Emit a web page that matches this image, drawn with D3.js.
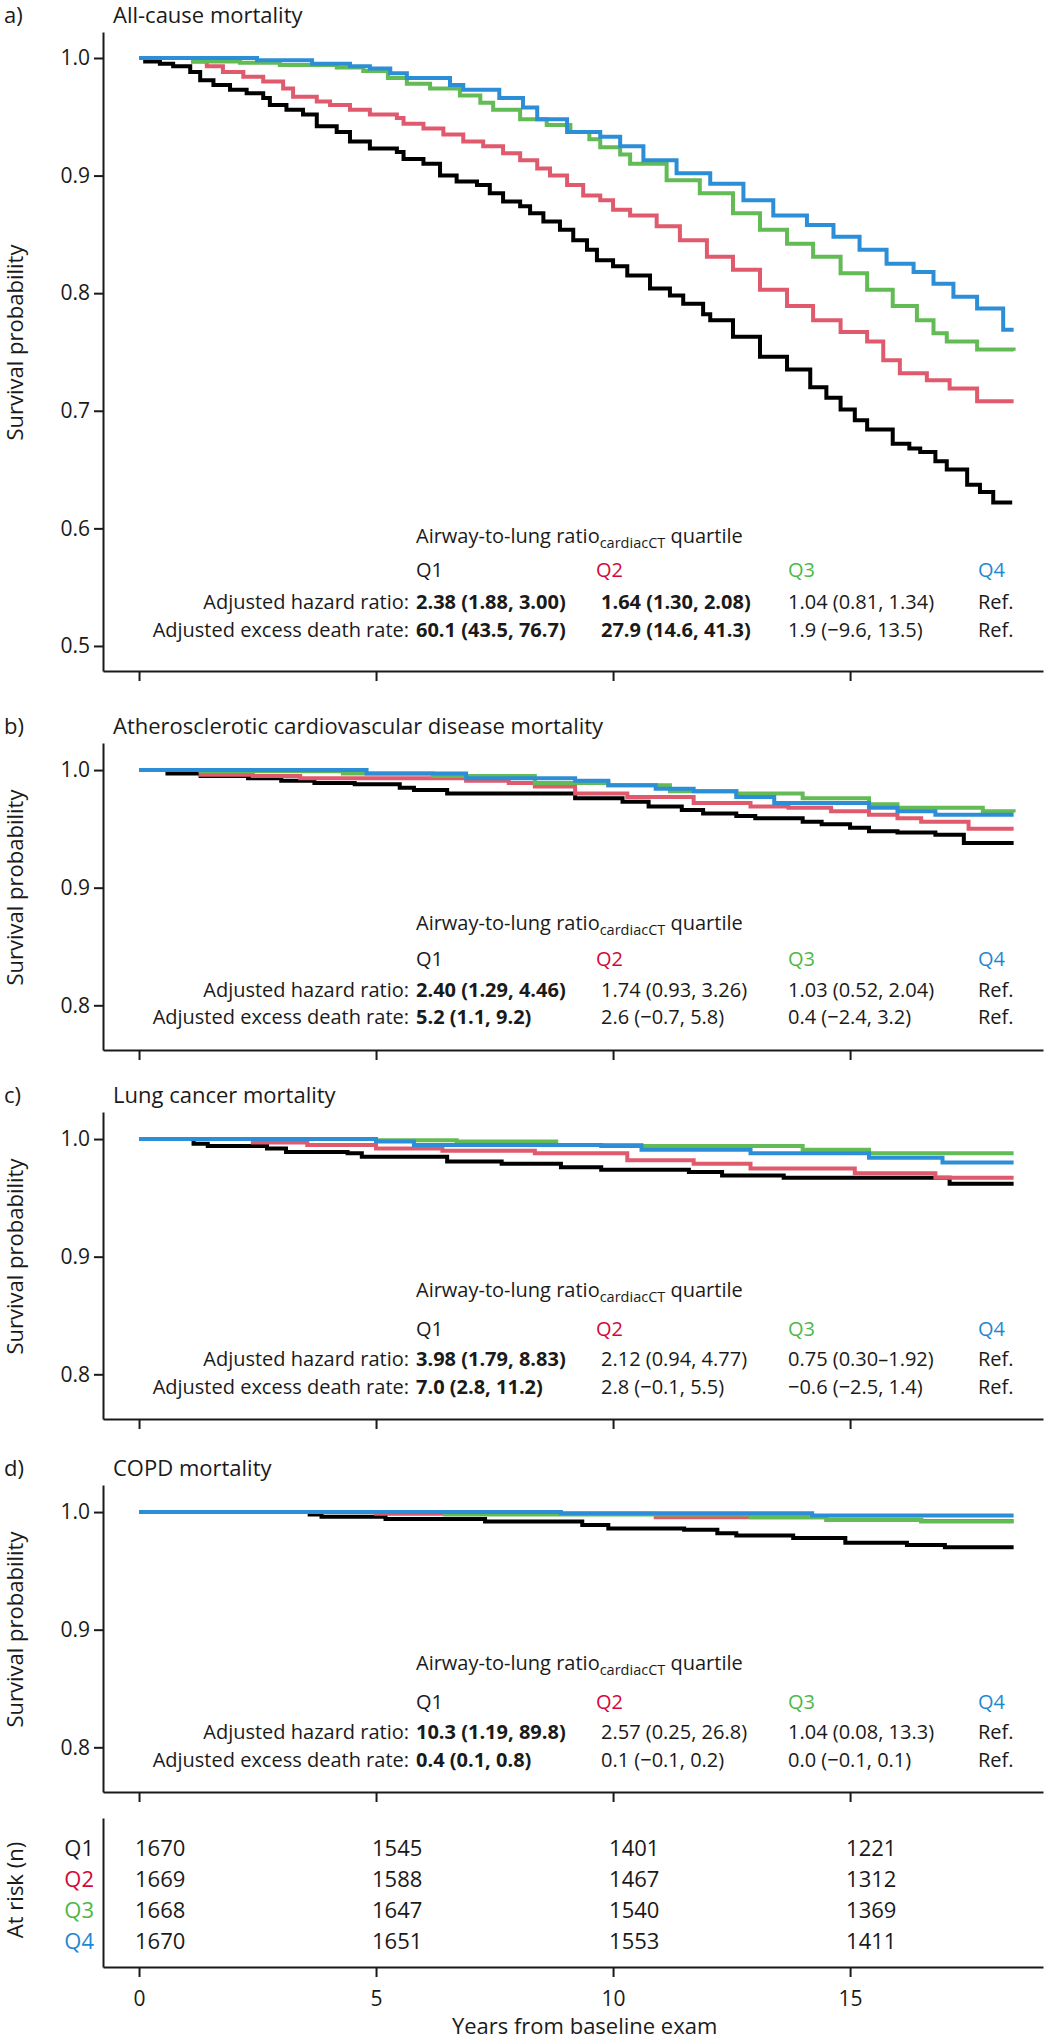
<!DOCTYPE html>
<html><head><meta charset="utf-8">
<script src="https://cdn.jsdelivr.net/npm/d3@7"></script>
<style>
body{margin:0;background:#fff}
text{font-family:"Open Sans",sans-serif;fill:#1a1a1a}
</style></head>
<body><svg id="chart" width="1049" height="2040"></svg>
<script>
// ---------------- DATA ----------------
const quartiles = ["Q1", "Q2", "Q3", "Q4"];
const xTicks = [0, 5, 10, 15];
const riskTimes = [0, 5, 10, 15];
const riskQ1 = [1670, 1545, 1401, 1221];
const riskQ2 = [1669, 1588, 1467, 1312];
const riskQ3 = [1668, 1647, 1540, 1369];
const riskQ4 = [1670, 1651, 1553, 1411];

const panelLabels = ["a)", "b)", "c)", "d)"];
const panelTitles = ["All-cause mortality", "Atherosclerotic cardiovascular disease mortality", "Lung cancer mortality", "COPD mortality"];
const yTicksA = [0.5, 0.6, 0.7, 0.8, 0.9, 1.0];
const yTicksBCD = [0.8, 0.9, 1.0];

// Kaplan-Meier curves: [years, survival]
const allQ1 = [[0,1],[0.13,0.997],[0.44,0.995],[0.72,0.993],[1.08,0.988],[1.29,0.981],[1.57,0.977],[1.92,0.973],[2.27,0.970],[2.62,0.966],[2.76,0.960],[3.11,0.956],[3.46,0.952],[3.75,0.942],[4.17,0.937],[4.45,0.929],[4.87,0.923],[5.44,0.920],[5.58,0.914],[6.0,0.910],[6.35,0.900],[6.7,0.895],[7.13,0.892],[7.4,0.885],[7.68,0.878],[8.04,0.874],[8.25,0.868],[8.53,0.861],[8.88,0.854],[9.16,0.845],[9.45,0.837],[9.66,0.828],[10.0,0.823],[10.3,0.815],[10.78,0.804],[11.2,0.798],[11.48,0.791],[11.9,0.782],[12.05,0.777],[12.53,0.763],[13.1,0.746],[13.67,0.735],[14.16,0.720],[14.5,0.711],[14.8,0.701],[15.1,0.692],[15.36,0.684],[15.9,0.672],[16.25,0.668],[16.48,0.665],[16.8,0.657],[17.04,0.650],[17.47,0.637],[17.74,0.631],[18.02,0.622],[18.42,0.622]];
const allQ2 = [[0,1],[1.14,0.997],[1.43,0.993],[1.77,0.988],[2.2,0.984],[2.62,0.980],[3.04,0.974],[3.25,0.967],[3.75,0.963],[4.03,0.960],[4.45,0.956],[4.87,0.952],[5.44,0.949],[5.58,0.944],[6.0,0.940],[6.42,0.935],[6.84,0.929],[7.26,0.925],[7.68,0.919],[8.04,0.913],[8.4,0.906],[8.67,0.900],[9.03,0.892],[9.37,0.883],[9.73,0.879],[10.0,0.871],[10.36,0.866],[10.92,0.857],[11.41,0.845],[11.98,0.831],[12.53,0.820],[13.1,0.803],[13.67,0.789],[14.22,0.777],[14.8,0.767],[15.36,0.759],[15.7,0.743],[16.05,0.732],[16.62,0.726],[17.1,0.719],[17.68,0.708],[18.45,0.708]];
const allQ3 = [[0,1],[1.14,0.997],[2.13,0.996],[2.97,0.994],[4.17,0.992],[4.73,0.989],[5.25,0.983],[5.65,0.978],[6.14,0.974],[6.77,0.968],[7.2,0.962],[7.47,0.956],[8.04,0.948],[8.6,0.943],[9.1,0.937],[9.5,0.931],[9.73,0.924],[10.15,0.918],[10.36,0.910],[11.13,0.896],[11.83,0.885],[12.53,0.868],[13.1,0.854],[13.67,0.842],[14.22,0.831],[14.8,0.817],[15.36,0.803],[15.9,0.789],[16.41,0.777],[16.76,0.766],[17.04,0.759],[17.68,0.752],[18.45,0.751]];
const allQ4 = [[0,1],[2.49,0.998],[3.65,0.995],[4.45,0.993],[4.87,0.991],[5.3,0.987],[5.65,0.983],[6.56,0.977],[6.84,0.973],[7.6,0.966],[8.1,0.958],[8.4,0.948],[9.03,0.937],[9.73,0.933],[10.15,0.925],[10.64,0.913],[11.34,0.902],[12.05,0.893],[12.75,0.879],[13.38,0.866],[14.09,0.858],[14.65,0.848],[15.2,0.837],[15.77,0.825],[16.34,0.818],[16.76,0.808],[17.18,0.797],[17.68,0.787],[18.23,0.769],[18.45,0.769]];

const ascvdQ1 = [[0,1],[0.6,0.997],[1.3,0.995],[2.3,0.993],[3.0,0.991],[3.7,0.989],[4.55,0.988],[5.5,0.985],[5.8,0.983],[6.5,0.980],[8.35,0.980],[9.2,0.976],[10.2,0.973],[10.75,0.969],[11.45,0.966],[11.9,0.963],[12.6,0.961],[13.0,0.959],[14.0,0.956],[14.4,0.954],[15.0,0.951],[15.4,0.948],[16.0,0.947],[16.8,0.945],[17.4,0.938],[18.45,0.938]];
const ascvdQ2 = [[0,1],[1.3,0.996],[2.4,0.995],[3.4,0.993],[5.25,0.993],[6.9,0.991],[7.8,0.989],[8.35,0.986],[9.2,0.980],[10.3,0.977],[11.7,0.972],[12.9,0.969],[13.7,0.968],[14.6,0.965],[15.4,0.962],[16.0,0.959],[16.5,0.956],[17.5,0.950],[18.45,0.950]];
const ascvdQ3 = [[0,1],[1.3,0.999],[4.3,0.997],[6.2,0.995],[8.35,0.989],[9.9,0.987],[11.2,0.982],[12.6,0.980],[14.0,0.976],[15.4,0.971],[16.0,0.968],[17.8,0.965],[18.45,0.964]];
const ascvdQ4 = [[0,1],[4.8,0.997],[6.9,0.993],[9.2,0.991],[9.9,0.987],[10.9,0.984],[11.7,0.982],[12.6,0.977],[13.4,0.972],[15.4,0.968],[16.0,0.965],[16.8,0.962],[18.45,0.962]];

const lungQ1 = [[0,1],[1.15,0.996],[1.45,0.994],[2.7,0.992],[3.1,0.989],[4.4,0.988],[4.7,0.985],[6.5,0.981],[7.65,0.979],[8.9,0.976],[9.75,0.974],[11.6,0.972],[12.3,0.969],[13.6,0.967],[17.1,0.962],[18.45,0.962]];
const lungQ2 = [[0,1],[2.4,0.997],[3.55,0.995],[5.0,0.992],[6.4,0.990],[8.35,0.988],[10.3,0.982],[11.7,0.979],[12.9,0.975],[15.1,0.971],[16.8,0.967],[18.45,0.967]];
const lungQ3 = [[0,1],[5.0,0.999],[6.7,0.998],[8.8,0.995],[10.6,0.994],[14.0,0.991],[15.4,0.988],[18.45,0.988]];
const lungQ4 = [[0,1],[5.0,0.998],[5.8,0.995],[9.75,0.994],[10.6,0.991],[12.9,0.988],[15.4,0.984],[16.95,0.980],[18.45,0.980]];

const copdQ1 = [[0,1],[3.6,0.998],[3.85,0.996],[5.2,0.994],[7.3,0.992],[9.35,0.989],[9.9,0.986],[11.5,0.985],[12.2,0.982],[12.6,0.980],[13.8,0.978],[14.9,0.974],[16.2,0.972],[17.0,0.970],[18.45,0.970]];
const copdQ2 = [[0,1],[5.0,0.9985],[10.9,0.9955],[14.5,0.9935],[16.5,0.9925],[18.45,0.9925]];
const copdQ3 = [[0,1],[6.45,0.998],[12.9,0.9955],[14.5,0.9935],[16.5,0.992],[18.45,0.992]];
const copdQ4 = [[0,1],[8.9,0.999],[14.2,0.997],[18.45,0.997]];

// Annotation tables
const hrA = ["2.38 (1.88, 3.00)", "1.64 (1.30, 2.08)", "1.04 (0.81, 1.34)", "Ref."];
const edrA = ["60.1 (43.5, 76.7)", "27.9 (14.6, 41.3)", "1.9 (\u22129.6, 13.5)", "Ref."];
const boldA = [true, true, false, false];
const hrB = ["2.40 (1.29, 4.46)", "1.74 (0.93, 3.26)", "1.03 (0.52, 2.04)", "Ref."];
const edrB = ["5.2 (1.1, 9.2)", "2.6 (\u22120.7, 5.8)", "0.4 (\u22122.4, 3.2)", "Ref."];
const boldB = [true, false, false, false];
const hrC = ["3.98 (1.79, 8.83)", "2.12 (0.94, 4.77)", "0.75 (0.30\u20131.92)", "Ref."];
const edrC = ["7.0 (2.8, 11.2)", "2.8 (\u22120.1, 5.5)", "\u22120.6 (\u22122.5, 1.4)", "Ref."];
const boldC = [true, false, false, false];
const hrD = ["10.3 (1.19, 89.8)", "2.57 (0.25, 26.8)", "1.04 (0.08, 13.3)", "Ref."];
const edrD = ["0.4 (0.1, 0.8)", "0.1 (\u22120.1, 0.2)", "0.0 (\u22120.1, 0.1)", "Ref."];
const boldD = [true, false, false, false];

// ---------------- STYLE / LAYOUT ----------------
const lineColors = ["#000000", "#E05A6E", "#62BB55", "#2C8ED6"];
const textColors = ["#1a1a1a", "#D3083A", "#4DB848", "#1F88D2"];
const axisColor = "#1a1a1a";

const svg = d3.select("#chart");
const x = d3.scaleLinear().domain([-0.76, 19.07]).range([103, 1043]);

const panels = [
  {label: panelLabels[0], title: panelTitles[0], top: 32, bottom: 671, domain: [0.4787, 1.0221], ticks: yTicksA,
   curves: [allQ1, allQ2, allQ3, allQ4], hr: hrA, edr: edrA, bold: boldA, off: [-128, -94, -62, -34]},
  {label: panelLabels[1], title: panelTitles[1], top: 743, bottom: 1050, domain: [0.762, 1.023], ticks: yTicksBCD,
   curves: [ascvdQ1, ascvdQ2, ascvdQ3, ascvdQ4], hr: hrB, edr: edrB, bold: boldB, off: [-120, -84, -53, -26]},
  {label: panelLabels[2], title: panelTitles[2], top: 1112, bottom: 1419, domain: [0.762, 1.023], ticks: yTicksBCD,
   curves: [lungQ1, lungQ2, lungQ3, lungQ4], hr: hrC, edr: edrC, bold: boldC, off: [-122, -83, -53, -25]},
  {label: panelLabels[3], title: panelTitles[3], top: 1485, bottom: 1792, domain: [0.762, 1.023], ticks: yTicksBCD,
   curves: [copdQ1, copdQ2, copdQ3, copdQ4], hr: hrD, edr: edrD, bold: boldD, off: [-122, -83, -53, -25]}
];

const colX = [416, 601, 788, 978];
const qX = [416, 596, 788, 978];
const labelRight = 409;

function styleAxis(g) {
  g.select(".domain").attr("stroke", axisColor).attr("stroke-width", 2);
  g.selectAll(".tick line").attr("stroke", axisColor).attr("stroke-width", 2);
  g.selectAll(".tick text").attr("fill", axisColor).style("font-family", '"Open Sans",sans-serif');
}

panels.forEach((p) => {
  const y = d3.scaleLinear().domain(p.domain).range([p.bottom, p.top]);
  const g = svg.append("g");

  g.append("text").attr("x", 4).attr("y", p.top - 9).attr("font-size", 22).text(p.label);
  g.append("text").attr("x", 113).attr("y", p.top - 9).attr("font-size", 22).text(p.title);

  const ya = g.append("g").attr("transform", `translate(103,0)`)
    .call(d3.axisLeft(y).tickValues(p.ticks).tickFormat(d3.format(".1f")).tickSize(9).tickPadding(4).tickSizeOuter(0));
  ya.selectAll(".tick text").attr("font-size", 21);
  styleAxis(ya);

  const xa = g.append("g").attr("transform", `translate(0,${p.bottom})`)
    .call(d3.axisBottom(x).tickValues(xTicks).tickFormat("").tickSize(10).tickSizeOuter(0));
  styleAxis(xa);

  g.append("text")
    .attr("transform", `translate(23,${(p.top + p.bottom) / 2 - 9}) rotate(-90)`)
    .attr("text-anchor", "middle").attr("font-size", 22).text("Survival probability");

  const line = d3.line().x(d => x(d[0])).y(d => y(d[1])).curve(d3.curveStepAfter);
  p.curves.forEach((c, i) => {
    g.append("path").attr("d", line(c)).attr("fill", "none")
      .attr("stroke", lineColors[i]).attr("stroke-width", 4).attr("stroke-linejoin", "miter");
  });

  const ty = p.bottom + p.off[0];
  const t = g.append("text").attr("x", qX[0]).attr("y", ty).attr("font-size", 20);
  t.append("tspan").text("Airway-to-lung ratio");
  t.append("tspan").attr("font-size", 14.5).attr("dy", 5).text("cardiacCT");
  t.append("tspan").attr("dy", -5).text(" quartile");

  quartiles.forEach((q, i) => {
    g.append("text").attr("x", qX[i]).attr("y", p.bottom + p.off[1]).attr("font-size", 20)
      .style("fill", textColors[i]).text(q);
  });
  const rows = [["Adjusted hazard ratio:", p.hr], ["Adjusted excess death rate:", p.edr]];
  rows.forEach((r, ri) => {
    const ry = p.bottom + p.off[2 + ri];
    g.append("text").attr("x", labelRight).attr("y", ry).attr("text-anchor", "end").attr("font-size", 20).text(r[0]);
    r[1].forEach((v, i) => {
      g.append("text").attr("x", colX[i]).attr("y", ry).attr("font-size", 20)
        .attr("font-weight", p.bold[i] ? 700 : 400).text(v);
    });
  });
});

// ---------------- RISK TABLE ----------------
const riskTop = 1818, riskBottom = 1967;
const riskRows = [riskQ1, riskQ2, riskQ3, riskQ4];
const yr = d3.scaleBand().domain(quartiles).range([1832, 1956]);
const rg = svg.append("g");
const rya = rg.append("g").attr("transform", "translate(103,0)")
  .call(d3.axisLeft(d3.scaleLinear().range([riskBottom, riskTop])).tickValues([]).tickSizeOuter(0));
styleAxis(rya);
const rxa = rg.append("g").attr("transform", `translate(0,${riskBottom})`)
  .call(d3.axisBottom(x).tickValues(xTicks).tickFormat(d3.format("d")).tickSize(10).tickPadding(14).tickSizeOuter(0));
rxa.selectAll(".tick text").attr("font-size", 21);
styleAxis(rxa);

quartiles.forEach((q, i) => {
  const cy = yr(q) + yr.bandwidth() / 2 + 8;
  rg.append("text").attr("x", 94).attr("y", cy).attr("text-anchor", "end").attr("font-size", 22)
    .style("fill", textColors[i]).text(q);
  riskRows[i].forEach((n, j) => {
    rg.append("text").attr("x", x(riskTimes[j]) - 4).attr("y", cy).attr("font-size", 22).text(n);
  });
});
rg.append("text").attr("transform", "translate(23,1890) rotate(-90)").attr("text-anchor", "middle")
  .attr("font-size", 22).text("At risk (n)");
rg.append("text").attr("x", x(9.4)).attr("y", 2034).attr("text-anchor", "middle").attr("font-size", 22)
  .text("Years from baseline exam");
</script>
</body></html>
